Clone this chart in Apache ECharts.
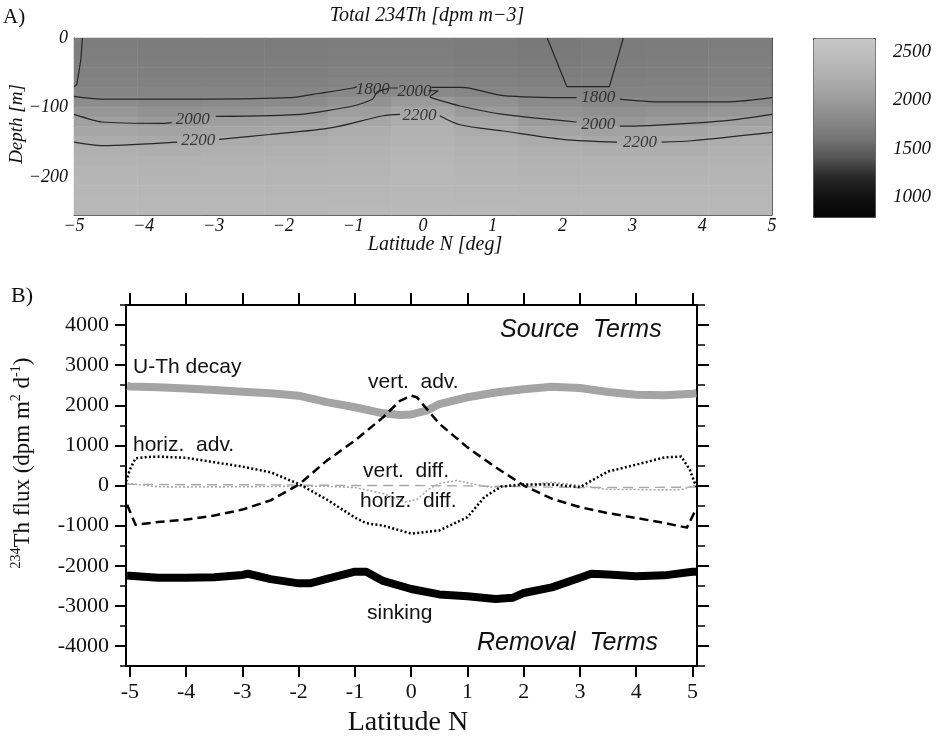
<!DOCTYPE html>
<html>
<head>
<meta charset="utf-8">
<script src="https://cdn.jsdelivr.net/npm/echarts@6/dist/echarts.min.js"></script>
<style>
html, body { margin: 0; padding: 0; background: #fff; }
#chart { width: 942px; height: 736px; }
</style>
</head>
<body>
<div id="chart"></div>
<script>
// ---------------- panel A : section of total 234Th ----------------
var secLat = [-5, -4, -3, -2, -1, 0, 1, 2, 3, 4, 5];
var secDepth = [0, -15, -30, -45, -60, -75, -90, -105, -120, -135, -150, -165, -180, -195, -210, -225, -240, -255];
// one column per latitude, top to bottom
var secTh = [
    [1690, 1700, 1710, 1720, 1740, 1770, 1840, 1960, 2050, 2130, 2200, 2260, 2300, 2330, 2350, 2360, 2370, 2380],
    [1680, 1690, 1700, 1710, 1730, 1760, 1810, 1900, 1990, 2090, 2170, 2240, 2290, 2320, 2340, 2360, 2370, 2380],
    [1680, 1690, 1700, 1710, 1730, 1760, 1820, 1930, 2030, 2120, 2200, 2260, 2300, 2330, 2350, 2360, 2370, 2380],
    [1680, 1690, 1700, 1710, 1730, 1770, 1830, 1960, 2060, 2150, 2220, 2270, 2310, 2330, 2350, 2360, 2370, 2380],
    [1690, 1700, 1710, 1730, 1760, 1800, 1900, 2030, 2130, 2220, 2270, 2310, 2330, 2350, 2360, 2370, 2380, 2390],
    [1690, 1700, 1710, 1730, 1760, 1810, 1990, 2120, 2220, 2280, 2320, 2340, 2360, 2370, 2380, 2390, 2390, 2400],
    [1670, 1680, 1690, 1710, 1740, 1780, 1890, 2000, 2120, 2200, 2260, 2300, 2330, 2350, 2360, 2370, 2380, 2390],
    [1650, 1660, 1670, 1690, 1720, 1760, 1820, 1920, 2000, 2110, 2190, 2250, 2290, 2320, 2340, 2360, 2370, 2380],
    [1670, 1680, 1690, 1700, 1720, 1750, 1800, 1880, 1960, 2080, 2170, 2240, 2290, 2320, 2340, 2360, 2370, 2380],
    [1680, 1690, 1700, 1710, 1730, 1750, 1790, 1900, 2000, 2100, 2180, 2240, 2290, 2320, 2340, 2360, 2370, 2380],
    [1690, 1700, 1710, 1720, 1740, 1770, 1830, 1950, 2060, 2170, 2230, 2280, 2310, 2330, 2350, 2360, 2370, 2380]
];
// contour lines [lat, depth], null = gap for a label
var c1800 = [[-5, -84], [-4.6, -88], [-3.2, -88], [-1.9, -86], [-1.5, -80], [-1.0, -72], [-0.95, -70], null,
    [-0.48, -72], [-0.36, -72], null, [0.12, -71], [0.55, -71], [1.15, -83], [2.2, -86], null,
    [2.82, -88], [3.4, -92], [4.35, -92], [5, -86]];
var c2000 = [[-5, -110], [-4.6, -121], [-3.7, -123], [-3.6, -122], null, [-2.97, -113], [-1.75, -110], [-1.0, -98],
    [-0.72, -88], [-0.66, -78], [-0.5, -73], null, [0.08, -76], [0.22, -76], [0.1, -85], [0.15, -87],
    [0.53, -98], [1.15, -110], [2.2, -121], null, [2.82, -127], [3.0, -127], [4.35, -119], [5, -110]];
var c2200 = [[-5, -150], [-4.6, -155], [-3.52, -150], null, [-2.92, -146], [-2.2, -139], [-1.3, -129],
    [-0.57, -112], [-0.33, -110], null, [0.24, -112], [0.53, -125], [1.15, -134], [2.0, -146], [2.78, -150], null,
    [3.42, -150], [3.85, -148], [5, -136]];
var cWest = [[-4.88, 0], [-4.9, -30], [-4.96, -67], [-5, -70]];
var cPatch = [[1.78, 0], [1.92, -35], [2.06, -70], [2.67, -70], [2.77, -35], [2.87, 0]];
var contourLabels = [[-0.72, -74, '1800'], [-0.12, -77, '2000'], [-0.05, -111, '2200'], [-3.3, -118, '2000'],
    [-3.22, -147, '2200'], [2.51, -86, '1800'], [2.51, -125, '2000'], [3.11, -150, '2200']];
var barTicks = [1000, 1500, 2000, 2500];

// ---------------- panel B : 234Th fluxes ----------------
var uthLat = [-5.05, -5, -4.5, -4, -3.5, -3, -2.5, -2, -1.5, -1, -0.5, -0.2, 0, 0.3, 0.5, 1, 1.5, 2, 2.5, 3, 3.5, 4, 4.5, 5, 5.07];
var uthDecay = [2480, 2470, 2450, 2420, 2380, 2340, 2300, 2240, 2080, 1950, 1800, 1760, 1770, 1880, 2030, 2200, 2320, 2400, 2460, 2430, 2330, 2260, 2250, 2290, 2300];

var sinkLat = [-5.05, -5, -4.5, -4, -3.5, -3, -2.9, -2.5, -2, -1.8, -1.5, -1, -0.8, -0.5, 0, 0.5, 1, 1.5, 1.8, 2, 2.5, 3, 3.2, 3.5, 4, 4.5, 5, 5.07];
var sinking = [-2250, -2250, -2300, -2300, -2285, -2230, -2200, -2335, -2440, -2440, -2330, -2150, -2150, -2380, -2580, -2715, -2760, -2830, -2800, -2680, -2540, -2300, -2200, -2220, -2260, -2240, -2150, -2150];

var vadvLat = [-5.05, -4.9, -4.5, -4, -3.5, -3, -2.5, -2, -1.5, -1, -0.5, -0.2, 0, 0.1, 0.5, 1, 1.5, 2, 2.5, 3, 3.5, 4, 4.5, 4.9, 5.07];
var vertAdv = [-480, -980, -910, -850, -750, -600, -370, 20, 620, 1120, 1700, 2110, 2240, 2200, 1540, 950, 455, 0, -330, -540, -690, -810, -935, -1050, -570];

var hadvLat = [-5.07, -5, -4.9, -4.7, -4.5, -4, -3.5, -3, -2.5, -2, -1.5, -1, -0.8, -0.5, 0, 0.5, 1, 1.3, 1.6, 2, 2.5, 3, 3.5, 4, 4.5, 4.8, 4.95, 5, 5.07];
var horizAdv = [100, 400, 680, 710, 720, 690, 580, 470, 330, 40, -350, -800, -940, -1000, -1200, -1120, -790, -290, -25, 25, 25, -40, 350, 520, 700, 720, 400, 210, -40];

var vdiffLat = [-5.05, -4.5, -4, -3, -2, -1.5, -1, -0.5, -0.1, 0.1, 0.3, 0.5, 0.8, 1.1, 1.4, 2, 2.5, 3, 3.5, 4, 4.5, 4.8, 5.05];
var vertDiff = [50, -30, -40, -30, -20, -20, -50, -200, -410, -350, -100, 50, 125, 40, -40, 0, 80, 0, -100, -100, -110, -100, 0];

var hdiffLat = [-5.05, -4, -3, -2, -1, 0, 1, 2, 3, 4, 5.05];
var horizDiff = [30, 20, 20, 10, 0, 0, -10, -30, -50, -50, -40];

var latTicks = [-5, -4, -3, -2, -1, 0, 1, 2, 3, 4, 5];
var fluxTicks = [-4000, -3000, -2000, -1000, 0, 1000, 2000, 3000, 4000];


var serif = '"Liberation Serif", "Times New Roman", serif';
var sans = '"Liberation Sans", Arial, sans-serif';

function pairs(xs, ys) {
    return xs.map(function (x, i) { return [x, ys[i]]; });
}
function gapped(pts) {
    return pts.map(function (p) { return p ? p : ['-', '-']; });
}
function minus(v) {
    return String(v).replace('-', '\u2212');
}
function plain(v) {
    return String(v);
}

var heatData = [];
secTh.forEach(function (col, i) {
    col.forEach(function (v, j) { heatData.push([i, j, v]); });
});

function contour(data, smooth) {
    return {
        type: 'line', xAxisIndex: 1, yAxisIndex: 1, data: gapped(data),
        symbol: 'none', smooth: smooth, silent: true,
        lineStyle: { color: '#262626', width: 1.2 }
    };
}
function flux(lat, vals, color, width, dash) {
    return {
        type: 'line', xAxisIndex: 4, yAxisIndex: 4, data: pairs(lat, vals),
        symbol: 'none', silent: true,
        lineStyle: { color: color, width: width, type: dash, cap: 'butt', join: 'round' }
    };
}
function label(x, y, text, font, align) {
    return {
        type: 'text', x: x, y: y, z: 100, silent: true,
        style: { text: text, font: font, fill: '#111', align: align || 'left', verticalAlign: 'middle' }
    };
}

var option = {
    backgroundColor: '#fff',
    animation: false,
    grid: [
        { left: 74, top: 38, width: 698, height: 177, outerBoundsMode: 'none' },
        { left: 74, top: 38, width: 698, height: 177, outerBoundsMode: 'none' },
        { left: 813, top: 38, width: 62, height: 179, outerBoundsMode: 'none' },
        { left: 126, top: 305, width: 571, height: 361, outerBoundsMode: 'none' }
    ],
    xAxis: [
        { gridIndex: 0, type: 'category', data: secLat, show: false },
        {
            gridIndex: 1, type: 'value', min: -5, max: 5, interval: 1, position: 'bottom',
            axisLine: { onZero: false, lineStyle: { color: '#4a4a4a', width: 1 } },
            axisTick: { show: false }, splitLine: { show: false },
            axisLabel: { margin: 2, fontFamily: serif, fontStyle: 'italic', fontSize: 18, color: '#111', formatter: minus }
        },
        {
            gridIndex: 1, type: 'value', min: -5, max: 5, position: 'top',
            axisLine: { onZero: false, lineStyle: { color: '#4a4a4a', width: 1 } },
            axisTick: { show: false }, axisLabel: { show: false }, splitLine: { show: false }
        },
        { gridIndex: 2, type: 'value', min: 0, max: 1, show: false },
        {
            gridIndex: 3, type: 'value', min: -5.07, max: 5.08, position: 'bottom',
            axisLine: { onZero: false, lineStyle: { color: '#000', width: 2 } },
            axisTick: { customValues: latTicks, length: 11, lineStyle: { color: '#000', width: 2 } },
            splitLine: { show: false },
            axisLabel: { customValues: latTicks, margin: 15, fontFamily: serif, fontSize: 22, color: '#111', formatter: plain }
        },
        {
            gridIndex: 3, type: 'value', min: -5.07, max: 5.08, position: 'top',
            axisLine: { onZero: false, lineStyle: { color: '#000', width: 2 } },
            axisTick: { customValues: latTicks, length: 12, lineStyle: { color: '#000', width: 2 } },
            splitLine: { show: false }, axisLabel: { show: false }
        }
    ],
    yAxis: [
        { gridIndex: 0, type: 'category', data: secDepth, inverse: true, show: false },
        {
            gridIndex: 1, type: 'value', min: -255, max: 0, position: 'left',
            axisLine: { onZero: false, lineStyle: { color: '#4a4a4a', width: 1 } },
            axisTick: { show: false }, splitLine: { show: false },
            axisLabel: { customValues: [0, -100, -200], margin: 6, fontFamily: serif, fontStyle: 'italic', fontSize: 18, color: '#111', formatter: minus }
        },
        {
            gridIndex: 1, type: 'value', min: -255, max: 0, position: 'right',
            axisLine: { onZero: false, lineStyle: { color: '#4a4a4a', width: 1 } },
            axisTick: { show: false }, axisLabel: { show: false }, splitLine: { show: false }
        },
        {
            gridIndex: 2, type: 'value', min: 793, max: 2646, position: 'right',
            axisLine: { show: false, onZero: false }, splitLine: { show: false },
            axisTick: { customValues: [1500, 2000, 2500], inside: true, length: 3, lineStyle: { color: '#333' } },
            axisLabel: { customValues: barTicks, margin: 18, fontFamily: serif, fontStyle: 'italic', fontSize: 19, color: '#111', formatter: plain }
        },
        {
            gridIndex: 3, type: 'value', min: -4500, max: 4500, position: 'left',
            axisLine: { onZero: false, lineStyle: { color: '#000', width: 2 } },
            axisTick: { customValues: fluxTicks, length: 11, lineStyle: { color: '#000', width: 2 } },
            splitLine: { show: false },
            axisLabel: { customValues: fluxTicks, margin: 17, fontFamily: serif, fontSize: 22, color: '#111', formatter: plain }
        },
        {
            gridIndex: 3, type: 'value', min: -4500, max: 4500, interval: 500, position: 'left',
            axisLine: { show: false, onZero: false },
            axisTick: { length: 6, lineStyle: { color: '#000', width: 1.5 } },
            splitLine: { show: false }, axisLabel: { show: false }
        },
        {
            gridIndex: 3, type: 'value', min: -4500, max: 4500, position: 'right',
            axisLine: { onZero: false, lineStyle: { color: '#000', width: 2 } },
            axisTick: { customValues: fluxTicks, length: 12, lineStyle: { color: '#000', width: 2 } },
            splitLine: { show: false }, axisLabel: { show: false }
        },
        {
            gridIndex: 3, type: 'value', min: -4500, max: 4500, interval: 500, position: 'right',
            axisLine: { show: false, onZero: false },
            axisTick: { length: 8, lineStyle: { color: '#000', width: 1.5 } },
            splitLine: { show: false }, axisLabel: { show: false }
        }
    ],
    visualMap: {
        type: 'continuous', seriesIndex: 0, min: 793, max: 2646,
        calculable: false, hoverLink: false, orient: 'vertical',
        left: 813, top: 38, itemWidth: 62, itemHeight: 179, padding: 0,
        borderColor: '#444', borderWidth: 1,
        inRange: {
            color: ['#050505', '#101010', '#272727', '#555555', '#767676',
                '#8a8a8a', '#9e9e9e', '#aeaeae', '#bbbbbb', '#c8c8c8']
        }
    },
    series: [
        {
            type: 'heatmap', xAxisIndex: 0, yAxisIndex: 0, data: heatData, silent: true,
            itemStyle: { borderWidth: 0 }
        },
        contour(c1800, 0.3),
        contour(c2000, 0.2),
        contour(c2200, 0.3),
        contour(cWest, false),
        contour(cPatch, false),
        {
            type: 'scatter', xAxisIndex: 1, yAxisIndex: 1, data: contourLabels,
            symbolSize: 0, silent: true,
            label: {
                show: true, position: 'inside', fontFamily: serif, fontStyle: 'italic', fontSize: 17, color: '#1a1a1a',
                formatter: function (p) { return p.data[2]; }
            }
        },
        flux(hdiffLat, horizDiff, '#a8a8a8', 1.4, [10, 6]),
        flux(vdiffLat, vertDiff, '#a8a8a8', 1.6, [2, 2]),
        flux(uthLat, uthDecay, '#a4a4a4', 8, 'solid'),
        flux(sinkLat, sinking, '#000', 8, 'solid'),
        flux(vadvLat, vertAdv, '#000', 2.5, [9, 5]),
        flux(hadvLat, horizAdv, '#000', 2.5, [2, 2.3])
    ],
    graphic: [
        label(3, 17, 'A)', '21px ' + serif),
        label(427, 16, 'Total 234Th [dpm m\u22123]', 'italic 20px ' + serif, 'center'),
        label(435, 245, 'Latitude N [deg]', 'italic 20px ' + serif, 'center'),
        {
            type: 'text', x: 17, y: 124, rotation: Math.PI / 2, z: 100, silent: true,
            style: { text: 'Depth [m]', font: 'italic 19px ' + serif, fill: '#111', align: 'center', verticalAlign: 'middle' }
        },
        label(11, 296, 'B)', '22px ' + serif),
        label(408, 723, 'Latitude N', '28px ' + serif, 'center'),
        {
            type: 'text', x: 23, y: 463, rotation: Math.PI / 2, z: 100, silent: true,
            style: {
                text: '{s|234}{n|Th flux (dpm m}{s|2}{n| d}{s|-1}{n|)}',
                align: 'center', verticalAlign: 'middle',
                rich: {
                    n: { fontFamily: serif, fontSize: 23, lineHeight: 28, fill: '#111' },
                    s: { fontFamily: serif, fontSize: 14, lineHeight: 18, verticalAlign: 'top', fill: '#111' }
                }
            }
        },
        label(500, 330, 'Source  Terms', 'italic 25px ' + sans),
        label(477, 643, 'Removal  Terms', 'italic 25px ' + sans),
        label(133, 367, 'U-Th decay', '21px ' + sans),
        label(368, 382, 'vert.  adv.', '21px ' + sans),
        label(133, 445, 'horiz.  adv.', '21px ' + sans),
        label(363, 471, 'vert.  diff.', '21px ' + sans),
        label(360, 501, 'horiz.  diff.', '21px ' + sans),
        label(367, 613, 'sinking', '21px ' + sans)
    ]
};

echarts.init(document.getElementById('chart')).setOption(option);
</script>
</body>
</html>
